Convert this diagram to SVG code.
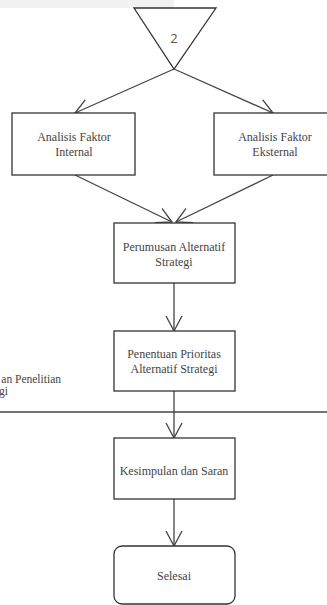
<svg xmlns="http://www.w3.org/2000/svg" width="327" height="605" viewBox="0 0 327 605">
<style>
.box{fill:#fff;stroke:#333;stroke-width:1.3}
.ln{fill:none;stroke:#444;stroke-width:1.3}
.t{font-size:12px;fill:#444;text-anchor:middle}
.n{font-size:13px;fill:#555;text-anchor:middle}
</style>
<defs>
<marker id="ah" viewBox="0 0 16 18" refX="15" refY="9" markerWidth="16" markerHeight="18" markerUnits="userSpaceOnUse" orient="auto">
<path d="M0,1 L15,9 L0,17" fill="none" stroke="#444" stroke-width="1.3"/>
</marker>
</defs>
<rect x="0" y="0" width="174" height="8" fill="#f1f1f1"/>
<g id="connectors">
<line class="ln" x1="174" y1="69" x2="75" y2="113" marker-end="url(#ah)"/>
<line class="ln" x1="174" y1="69" x2="273" y2="113" marker-end="url(#ah)"/>
<line class="ln" x1="75" y1="175" x2="172" y2="222" marker-end="url(#ah)"/>
<line class="ln" x1="273" y1="175" x2="176" y2="222" marker-end="url(#ah)"/>
<line class="ln" x1="174" y1="283" x2="174" y2="331" marker-end="url(#ah)"/>
<line class="ln" x1="174" y1="391" x2="174" y2="438" marker-end="url(#ah)"/>
<line class="ln" x1="0" y1="412" x2="327" y2="412"/>
<line class="ln" x1="174" y1="499" x2="174" y2="546" marker-end="url(#ah)"/>
</g>
<g id="start">
<path class="box" d="M134,8 L216,8 L174,69 Z"/>
<text class="n" font-family="'Open Sans', 'DejaVu Sans', sans-serif" x="174" y="43">2</text>
</g>
<g font-family="'Liberation Serif', 'DejaVu Serif', serif">
<g id="internal">
<rect class="box" x="12" y="113" width="123" height="62"/>
<text class="t" x="74" y="141">Analisis Faktor</text>
<text class="t" x="74" y="156">Internal</text>
</g>
<g id="eksternal">
<rect class="box" x="214" y="113" width="120" height="62"/>
<text class="t" x="275" y="141">Analisis Faktor</text>
<text class="t" x="275" y="156">Eksternal</text>
</g>
<g id="perumusan">
<rect class="box" x="114" y="223" width="121" height="60"/>
<text class="t" x="174" y="251">Perumusan Alternatif</text>
<text class="t" x="174" y="266">Strategi</text>
</g>
<g id="penentuan">
<rect class="box" x="114" y="331" width="121" height="60"/>
<text class="t" x="174" y="358">Penentuan Prioritas</text>
<text class="t" x="174" y="373">Alternatif Strategi</text>
</g>
<g id="label-left">
<text class="t" x="61" y="383" style="text-anchor:end;font-size:11.5px">an Penelitian</text>
<text class="t" x="8" y="395" style="text-anchor:end;font-size:11.5px">gi</text>
</g>
<g id="kesimpulan">
<rect class="box" x="114" y="438" width="121" height="61"/>
<text class="t" x="174" y="475">Kesimpulan dan Saran</text>
</g>
<g id="selesai">
<rect class="box" x="114" y="546" width="121" height="58" rx="8" ry="8"/>
<text class="t" x="174" y="580">Selesai</text>
</g>
</g>
</svg>
